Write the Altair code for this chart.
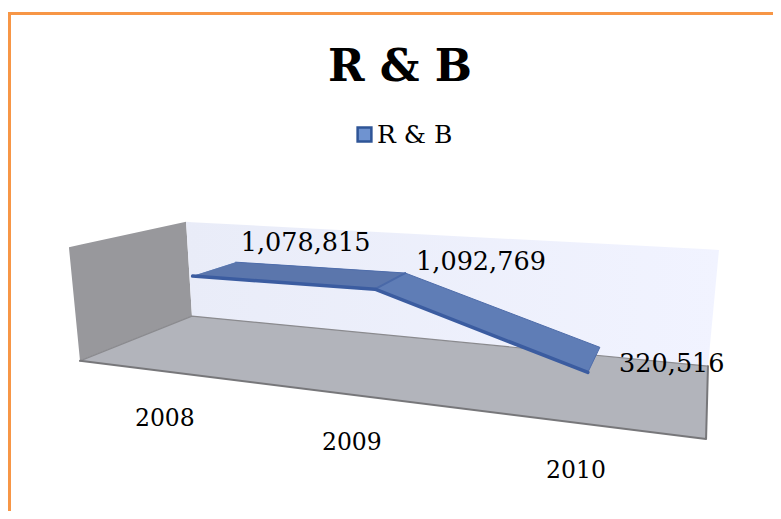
import numpy as np
import pandas as pd
import altair as alt

categories = ["2008", "2009", "2010"]
values = [1078815, 1092769, 320516]
value_labels = ["1,078,815", "1,092,769", "320,516"]
series = "R & B"

AXIS_MAX = 1510000
D_FRONT, D_BACK = 0.30, 0.72
FONT = "DejaVu Serif"

# Box corners of the 3-D scene as they appear on the picture: (along, depth, height) -> pixel
box_ref = [
    ((0, 0, 0), (80, 361)), ((0, 1, 0), (192, 316)), ((1, 1, 0), (708, 366)), ((1, 0, 0), (706, 439)),
    ((0, 0, 1), (69, 247)), ((0, 1, 1), (186, 222)), ((1, 1, 1), (719, 250)),
]
A = []
for (u, d, h), (px, py) in box_ref:
    A.append([u, d, h, 1, 0, 0, 0, 0, -px * u, -px * d, -px * h, -px])
    A.append([0, 0, 0, 0, u, d, h, 1, -py * u, -py * d, -py * h, -py])
P = np.linalg.svd(np.array(A, float))[2][-1].reshape(3, 4)


def proj(u, d, h=0.0):
    q = P @ np.array([u, d, h, 1.0])
    return (q[0] / q[2], q[1] / q[2])


def polygon(pts):
    """Turn a convex polygon into x / y / y2 rows for an area mark."""
    n = len(pts)
    xs = sorted({p[0] for p in pts})
    rows = []
    for x in xs:
        ys = []
        for i in range(n):
            (x0, y0), (x1, y1) = pts[i], pts[(i + 1) % n]
            if min(x0, x1) <= x <= max(x0, x1):
                if x0 == x1:
                    ys += [y0, y1]
                else:
                    ys.append(y0 + (y1 - y0) * (x - x0) / (x1 - x0))
        rows.append({"x": x, "y": min(ys), "y2": max(ys)})
    return pd.DataFrame(rows)


X = alt.X("x:Q", scale=alt.Scale(domain=[8, 773], range=[0, 765]), axis=None)
Y = alt.Y("y:Q", scale=alt.Scale(domain=[8, 511], range=[0, 503]), axis=None)


def face(pts, fill):
    return alt.Chart(polygon(pts)).mark_area(fill=fill).encode(x=X, y=Y, y2="y2:Q")


def edge(pts, color, width):
    df = pd.DataFrame({"x": [p[0] for p in pts], "y": [p[1] for p in pts], "o": range(len(pts))})
    return alt.Chart(df).mark_line(color=color, strokeWidth=width, strokeCap="round", strokeJoin="round").encode(
        x=X, y=Y, order="o:Q")


def text(rows, size, weight="normal", color="#000000"):
    return alt.Chart(pd.DataFrame(rows)).mark_text(
        font=FONT, fontSize=size, fontWeight=weight, color=color, align="center", baseline="middle"
    ).encode(x=X, y=Y, text="t:N")


corner = {k: proj(*k) for k, _ in box_ref}
lw = [corner[(0, 0, 1)], corner[(0, 1, 1)], corner[(0, 1, 0)], corner[(0, 0, 0)]]
bw = [corner[(0, 1, 1)], corner[(1, 1, 1)], corner[(1, 1, 0)], corner[(0, 1, 0)]]
fl = [corner[(0, 0, 0)], corner[(0, 1, 0)], corner[(1, 1, 0)], corner[(1, 0, 0)]]

pos = [(i + 0.5) / 3 for i in range(3)]
heights = [v / AXIS_MAX for v in values]
front = [proj(u, D_FRONT, h) for u, h in zip(pos, heights)]
back = [proj(u, D_BACK, h) for u, h in zip(pos, heights)]

wall_grad = alt.LinearGradient(gradient="linear", x1=0, x2=1, y1=0, y2=0, stops=[
    alt.GradientStop(color="#E9ECF8", offset=0), alt.GradientStop(color="#F1F3FF", offset=1)])

seg1 = [front[0], back[0], back[1], front[1]]
seg2 = [front[1], back[1], back[2], front[2]]

seg1_df = polygon(seg1)
seg1_df["series"] = series
legend_carrier = alt.Chart(seg1_df).mark_area().encode(
    x=X, y=Y, y2="y2:Q",
    color=alt.Color("series:N", scale=alt.Scale(range=["#6F93D0"]), legend=alt.Legend(
        orient="none", legendX=344, legendY=114, title=None, symbolType="square", symbolSize=190,
        symbolStrokeColor="#2F5597", symbolStrokeWidth=2.5,
        labelFont=FONT, labelFontSize=25, labelColor="#000000", labelOffset=0)),
)

cat_off = [(2, 48), (1, 48), (0, 48)]
cat_rows = []
for u, c, (dx, dy) in zip(pos, categories, cat_off):
    px, py = proj(u, 0, 0)
    cat_rows.append({"x": px + dx, "y": py + dy, "t": c})

lab_off = [(113, -33), (106, -27), (84, -8)]
lab_rows = []
for p, t, (dx, dy) in zip(front, value_labels, lab_off):
    lab_rows.append({"x": p[0] + dx, "y": p[1] + dy, "t": t})

border = pd.DataFrame({"x": [9.5, 9.5, 773], "y": [511, 13.5, 13.5], "o": [0, 1, 2]})

chart = alt.layer(
    alt.Chart(border).mark_line(color="#F79646", strokeWidth=3).encode(x=X, y=Y, order="o:Q"),
    face(lw, "#98989C"),
    alt.Chart(polygon(bw)).mark_area(fill=wall_grad).encode(x=X, y=Y, y2="y2:Q"),
    face(fl, "#B2B4BB"),
    edge([corner[(0, 0, 0)], corner[(0, 1, 0)], corner[(1, 1, 0)]], "#8A8A8E", 1.2),
    edge([corner[(0, 0, 0)], corner[(1, 0, 0)], corner[(1, 1, 0)]], "#77777A", 2),
    legend_carrier,
    face(seg1, "#5B76AC"),
    face(seg2, "#5F7DB6"),
    edge([front[1], back[1]], "#4A69A8", 2),
    edge([back[0], back[1], back[2], front[2]], "#4F6DAA", 1),
    edge(front, "#3B5CA0", 3.5),
    text(cat_rows, 23.5),
    text(lab_rows, 25.5),
).properties(
    width=765, height=503, padding=0,
    autosize=alt.AutoSizeParams(type="none"),
    background="#FFFFFF",
    title=alt.TitleParams("R & B", font=FONT, fontSize=44, fontWeight="bold", color="#000000",
                          anchor="middle", dx=9.5, dy=86, orient="top"),
).configure_view(stroke=None)

chart.save("out.html", embed_options={"renderer": "svg", "actions": False})
